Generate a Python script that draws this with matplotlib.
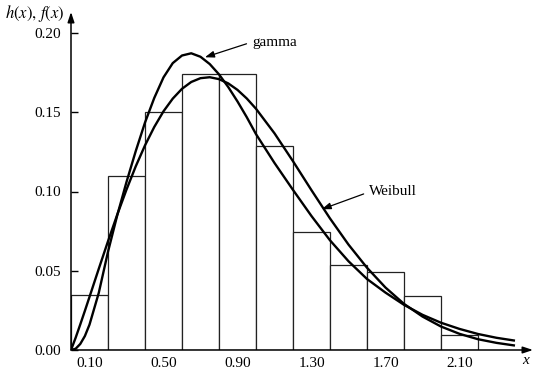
import matplotlib
matplotlib.use("Agg")
import matplotlib.pyplot as plt

# ---- data ----
bin_left = [0.0, 0.2, 0.4, 0.6, 0.8, 1.0, 1.2, 1.4, 1.6, 1.8, 2.0]
hist_h = [0.035, 0.110, 0.150, 0.174, 0.174, 0.129, 0.0743, 0.0537, 0.049, 0.0343, 0.0097]
bin_width = 0.2

curve_x = [0.00, 0.025, 0.05, 0.075, 0.10, 0.15, 0.20, 0.25, 0.30, 0.35, 0.40, 0.45,
           0.50, 0.55, 0.60, 0.65, 0.70, 0.75, 0.80, 0.85, 0.90, 0.95, 1.00, 1.10,
           1.20, 1.30, 1.40, 1.50, 1.60, 1.70, 1.80, 1.90, 2.00, 2.10, 2.20, 2.30, 2.40]
gamma_y = [0.0, 0.0008, 0.0038, 0.0088, 0.016, 0.036, 0.062, 0.085, 0.106, 0.1255,
           0.1435, 0.159, 0.172, 0.181, 0.1858, 0.1872, 0.1850, 0.1804, 0.1739,
           0.1659, 0.1568, 0.1469, 0.1362, 0.1180, 0.1010, 0.0845, 0.0692, 0.0560,
           0.0448, 0.0362, 0.0285, 0.0222, 0.0172, 0.0133, 0.0101, 0.0077, 0.0059]
weibull_y = [0.0, 0.0077, 0.0161, 0.0247, 0.0335, 0.0512, 0.0686, 0.0854, 0.1012,
             0.1159, 0.1291, 0.1407, 0.1506, 0.1586, 0.1648, 0.1691, 0.1715, 0.1721,
             0.1709, 0.1682, 0.1641, 0.1587, 0.1522, 0.1367, 0.1191, 0.1008, 0.0830,
             0.0665, 0.0519, 0.0394, 0.0291, 0.0211, 0.0148, 0.0102, 0.0068, 0.0045,
             0.0028]

xtick_vals = [0.10, 0.50, 0.90, 1.30, 1.70, 2.10]
xtick_labels = ["0.10", "0.50", "0.90", "1.30", "1.70", "2.10"]
ytick_vals = [0.00, 0.05, 0.10, 0.15, 0.20]
ytick_labels = ["0.00", "0.05", "0.10", "0.15", "0.20"]

plt.rcParams["font.family"] = ["Liberation Serif", "DejaVu Serif"]
plt.rcParams["mathtext.fontset"] = "stix"

W, H = 535, 370
fig = plt.figure(figsize=(W / 100, H / 100), dpi=100)
ax = fig.add_axes([71 / W, 20 / H, 462 / W, 338 / H])
ax.set_xlim(0, 462 / 185)
ax.set_ylim(0, 338 / 1585)

ax.bar(bin_left, hist_h, width=bin_width, align="edge", facecolor="white",
       edgecolor="#222222", linewidth=0.9, zorder=2)
ax.plot(curve_x, gamma_y, color="black", lw=1.7, zorder=3, solid_capstyle="butt")
ax.plot(curve_x, weibull_y, color="black", lw=1.7, zorder=3, solid_capstyle="butt")

for s in ax.spines.values():
    s.set_visible(False)
ax.annotate("", xy=(0, 1), xycoords="axes fraction", xytext=(0, 0),
            textcoords="axes fraction",
            arrowprops=dict(arrowstyle="-|>,head_length=0.6,head_width=0.2",
                            color="black", lw=1.1, shrinkA=0, shrinkB=0),
            annotation_clip=False, zorder=5)
ax.annotate("", xy=(1.0, 0), xycoords="axes fraction", xytext=(0, 0),
            textcoords="axes fraction",
            arrowprops=dict(arrowstyle="-|>,head_length=0.6,head_width=0.2",
                            color="black", lw=1.1, shrinkA=0, shrinkB=0),
            annotation_clip=False, zorder=5)

ax.set_xticks(xtick_vals)
ax.set_xticklabels(xtick_labels)
ax.set_yticks(ytick_vals)
ax.set_yticklabels(ytick_labels)
ax.tick_params(axis="x", length=0, pad=5, labelsize=11)
ax.tick_params(axis="y", direction="in", length=5, width=1.0, pad=7, labelsize=11)

arrow_kw = dict(arrowstyle="-|>,head_length=0.5,head_width=0.18", color="black",
                lw=0.9, shrinkA=2, shrinkB=0, relpos=(0, 0.5))
ax.annotate("gamma", xy=(0.724, 0.1847), xytext=(0.978, 0.1943),
            ha="left", va="center", fontsize=11, arrowprops=arrow_kw)
ax.annotate("Weibull", xy=(1.355, 0.0888), xytext=(1.611, 0.0997),
            ha="left", va="center", fontsize=11, arrowprops=arrow_kw)

fig.text(5 / W, 1 - 14 / H, r"$h(x),\,f(x)$", ha="left", va="center", fontsize=12)
fig.text(522 / W, 1 - 360 / H, "x", style="italic", ha="left", va="center",
         fontsize=11)

fig.savefig("out.png", dpi=100, facecolor="white")
